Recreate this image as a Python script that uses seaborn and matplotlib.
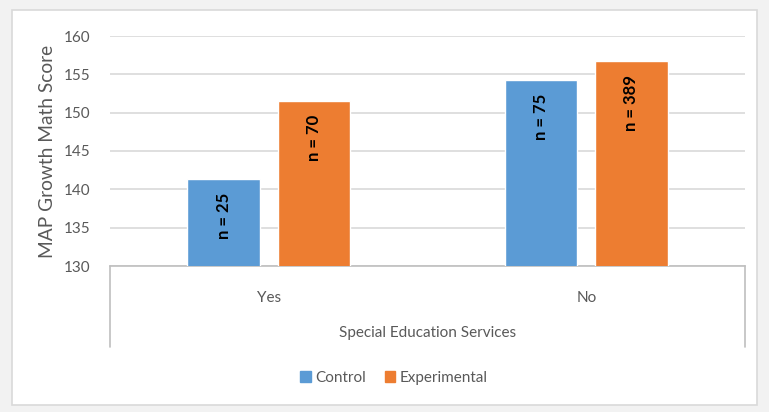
import matplotlib
matplotlib.use("Agg")
import matplotlib.pyplot as plt
import seaborn as sns
import pandas as pd
from matplotlib.patches import Rectangle

categories = ["Yes", "No"]
groups = ["Control", "Experimental"]
control_scores = [141.4, 154.3]
experimental_scores = [151.5, 156.7]
control_n = ["n = 25", "n = 75"]
experimental_n = ["n = 70", "n = 389"]
y_ticks = [130, 135, 140, 145, 150, 155, 160]

df = pd.DataFrame({
    "Special Education Services": categories * 2,
    "Group": [groups[0]] * 2 + [groups[1]] * 2,
    "Score": control_scores + experimental_scores,
    "Label": control_n + experimental_n,
})

sns.set_theme(style="white")
plt.rcParams["font.family"] = ["Lato", "DejaVu Sans"]
text_col = "#595959"

fig = plt.figure(figsize=(7.69, 4.12), dpi=100)
fig.patch.set_facecolor("#f2f2f2")
fig.add_artist(Rectangle((12 / 769, 1 - 405 / 412), (757 - 12) / 769, (405 - 10) / 412,
                         transform=fig.transFigure, facecolor="white",
                         edgecolor="#d9d9d9", linewidth=1.2, zorder=0))

ax = fig.add_axes([110 / 769, 1 - 266 / 412, (745 - 110) / 769, (266 - 36) / 412])
ax.set_facecolor("white")
palette = {"Control": "#5b9bd5", "Experimental": "#ed7d31"}
sns.barplot(data=df, x="Special Education Services", y="Score", hue="Group",
            order=categories, hue_order=groups, palette=palette,
            width=0.57, gap=0.2, saturation=1, ax=ax, legend=True,
            err_kws={"linewidth": 0}, errorbar=None, zorder=3)

ax.set_xlim(-0.5, 1.5)
ax.set_ylim(130, 160)
ax.set_yticks(y_ticks)
ax.yaxis.grid(True, color="#d9d9d9", linewidth=1.2, zorder=0)
ax.set_axisbelow(True)
for s in ["top", "right", "left"]:
    ax.spines[s].set_visible(False)
ax.spines["bottom"].set_color("#bfbfbf")
ax.spines["bottom"].set_linewidth(1.2)
ax.tick_params(axis="y", length=0, pad=14, labelsize=11, labelcolor=text_col)
ax.tick_params(axis="x", length=0, pad=18, labelsize=11, labelcolor=text_col)
ax.set_ylabel("MAP Growth Math Score", fontsize=13.8, color=text_col)
ax.yaxis.set_label_coords(-(110 - 56) / 635, 0.5)
ax.set_xlabel("Special Education Services", fontsize=11, color=text_col)
ax.xaxis.set_label_coords(0.5, -(333 - 266) / 230)
ax.xaxis.label.set_va("center")

# category box lines below axis
for xx in (0, 1):
    ax.plot([xx, xx], [0, -(347 - 266) / 230], transform=ax.transAxes,
            color="#bfbfbf", linewidth=1.2, clip_on=False)

# labels inside bars
for container, labels in zip(ax.containers, [control_n, experimental_n]):
    for patch, lab in zip(container.patches, labels):
        x = patch.get_x() + patch.get_width() / 2
        top = patch.get_y() + patch.get_height()
        ax.annotate(lab, (x, top), xytext=(0, -10), textcoords="offset points",
                    rotation=90, ha="center", va="top", fontsize=12,
                    fontweight="bold", color="black", zorder=5)

leg = ax.get_legend()
leg.remove()
handles = [Rectangle((0, 0), 1, 1, color=palette[g]) for g in groups]
fig.legend(handles, groups, loc="center", bbox_to_anchor=(394 / 769, 1 - 378 / 412),
           ncol=2, frameon=False, fontsize=11, labelcolor=text_col,
           handlelength=0.7, handleheight=0.7, handletextpad=0.3, columnspacing=1.2)

fig.savefig("out.png", dpi=100, facecolor=fig.get_facecolor())
